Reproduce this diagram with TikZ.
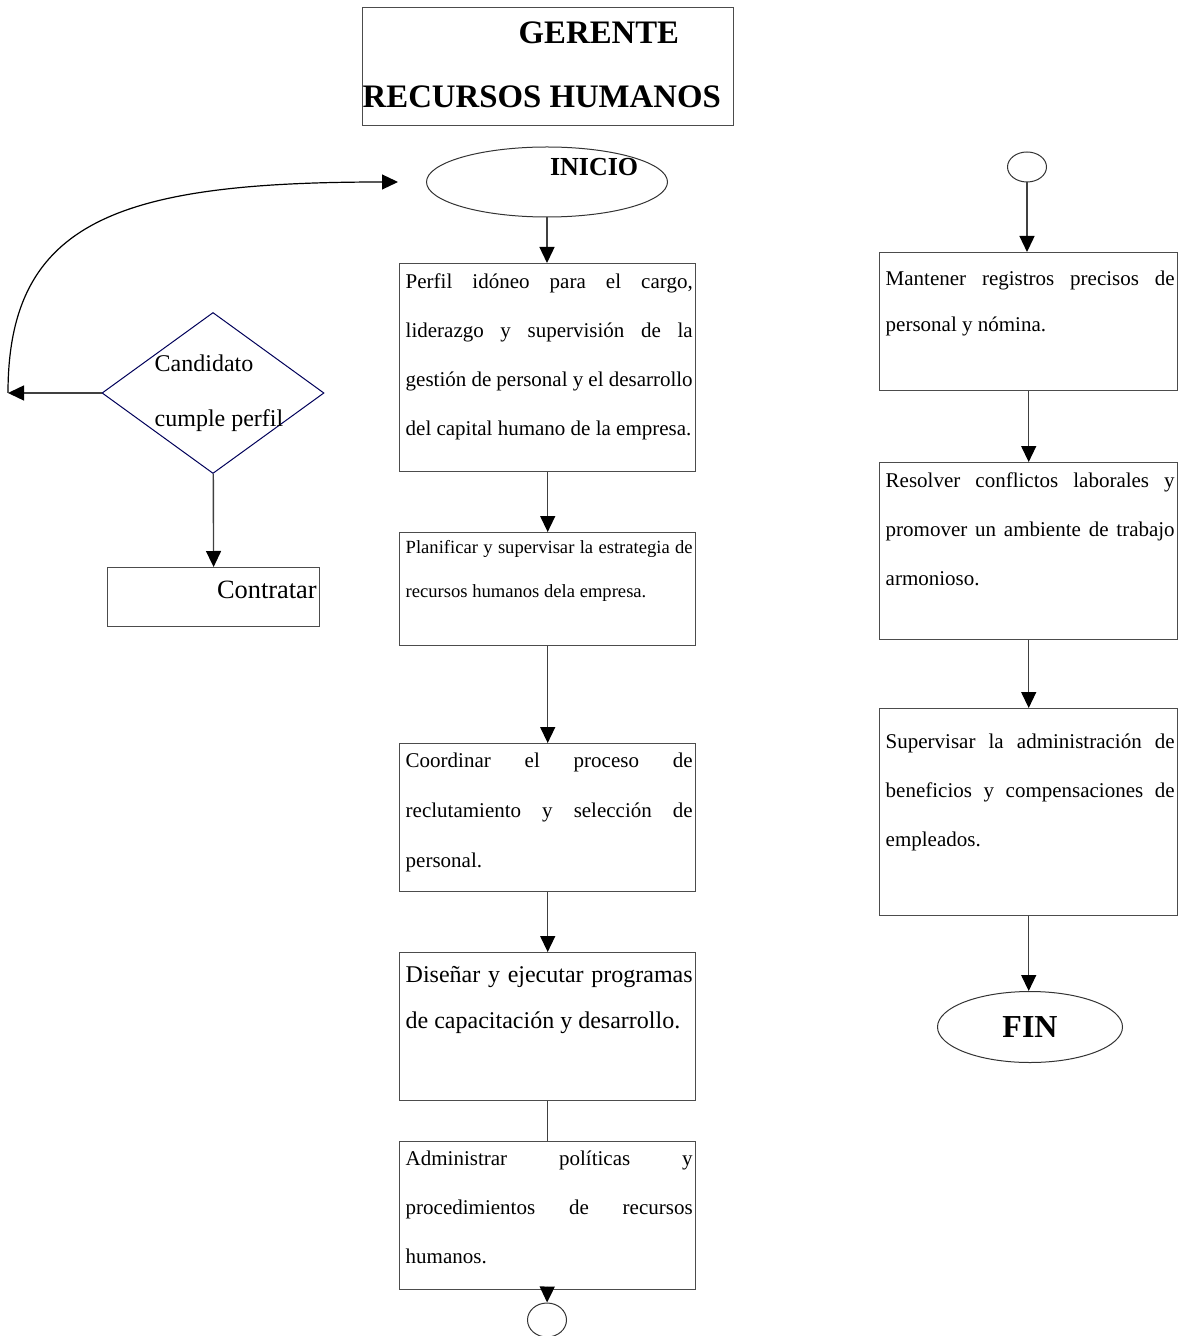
\documentclass[tikz,border=0pt]{standalone}
\usepackage{fontspec}
\setmainfont{Liberation Serif}
\usepackage{tikz}
\usetikzlibrary{shapes.geometric, arrows.meta, positioning}

% text of a process box: width, height, first baseline, lines
\newcommand{\stepbody}[4]{%
  \parbox[c][#2][t]{#1}{\leftskip=3pt\rightskip=1.5pt\rule{0pt}{#3}#4}}

\begin{document}
\begin{tikzpicture}[
  x=0.5pt, y=-0.5pt,
  >={Triangle[length=8pt,width=7.5pt,color=black]},
  stepbox/.style={rectangle, draw=black!70, line width=0.7pt, inner sep=0pt, anchor=north west, font=\fontsize{10.5}{24.5}\selectfont},
  terminal/.style={ellipse, draw=black!80, line width=0.5pt, inner sep=0pt},
  connector/.style={ellipse, draw=black!80, line width=0.5pt, inner sep=0pt, minimum width=19.5pt, minimum height=15pt},
  decision/.style={diamond, draw=blue!35!black, line width=0.5pt, inner sep=-4pt, shape aspect=1.38, minimum width=111pt, minimum height=80.5pt, align=left, font=\fontsize{12}{27.5}\selectfont},
  flow/.style={->, draw=black!75, line width=0.7pt},
]
\useasboundingbox (0,0) rectangle (1178,1336);

% title
\node[stepbox, font=\bfseries\fontsize{16.4}{32}\selectfont] (gerente) at (362,7)
  {\parbox[c][59pt][t]{185.5pt}{\rule{0pt}{18pt}\hspace*{78pt}GERENTE\\RECURSOS HUMANOS}};

% main column
\node[terminal, minimum width=120.5pt, minimum height=35pt, font=\bfseries\fontsize{13}{15}\selectfont] (inicio) at (547,182)
  {\raisebox{3pt}[0pt][0pt]{\makebox[0pt][l]{\hspace*{1.5pt}INICIO}}};
\node[stepbox] (perfil) at (399,263) {\stepbody{148pt}{104pt}{12.5pt}{Perfil idóneo para el cargo,\linebreak
  liderazgo y supervisión de la\linebreak gestión de personal y el desarrollo\linebreak
  del capital humano de la empresa.}};
\node[stepbox, font=\fontsize{9.3}{22}\selectfont] (planificar) at (399,532) {\stepbody{148pt}{56.5pt}{10.5pt}{Planificar y supervisar la estrategia de\linebreak
  recursos humanos dela empresa.}};
\node[stepbox, font=\fontsize{10.5}{25}\selectfont] (coordinar) at (399,743) {\stepbody{148pt}{74pt}{12pt}{Coordinar el proceso de\linebreak
  reclutamiento y selección de\linebreak personal.}};
\node[stepbox, font=\fontsize{12}{23}\selectfont] (disenar) at (399,952) {\stepbody{148pt}{74pt}{15pt}{Diseñar y ejecutar programas\linebreak
  de capacitación y desarrollo.}};
\node[stepbox] (administrar) at (399,1141) {\stepbody{148pt}{74pt}{12pt}{Administrar políticas y\linebreak
  procedimientos de recursos\linebreak humanos.}};
\node[connector, minimum height=17pt] (salida) at (547,1320) {};

% decision
\node[decision] (cumple) at (213,393) {\hspace*{6pt}Candidato\\\hspace*{6pt}cumple perfil};
\node[stepbox, font=\fontsize{13.2}{16}\selectfont] (contratar) at (107,567) {\stepbody{106pt}{29.5pt}{15.5pt}{\hfill Contratar}};
\coordinate (regreso) at (8,393);
\coordinate (retorno) at (398,182);

% right column
\node[connector] (entrada) at (1027,167) {};
\node[stepbox, font=\fontsize{10.5}{23}\selectfont] (mantener) at (879,252) {\stepbody{149pt}{69pt}{16.5pt}{Mantener registros precisos de\linebreak
  personal y nómina.}};
\node[stepbox] (resolver) at (879,462) {\stepbody{149pt}{88.5pt}{12.5pt}{Resolver conflictos laborales y\linebreak
  promover un ambiente de trabajo\linebreak armonioso.}};
\node[stepbox] (supervisar) at (879,708) {\stepbody{149pt}{103.5pt}{20pt}{Supervisar la administración de\linebreak
  beneficios y compensaciones de\linebreak empleados.}};
\node[terminal, minimum width=92.5pt, minimum height=35.5pt, font=\bfseries\fontsize{16}{19}\selectfont] (fin) at (1030,1027) {FIN};

% connectors
\draw[flow] (inicio.south) -- (inicio.south |- perfil.north);
\draw[flow] (perfil) -- (planificar);
\draw[flow] (planificar) -- (coordinar);
\draw[flow] (coordinar) -- (disenar);
\draw[draw=black!75, line width=0.7pt] (disenar) -- (administrar);
\draw[flow] (administrar) -- (salida);

\draw[flow] (cumple.west) -- (regreso);
\draw[->, line width=0.6pt] (regreso) .. controls (8,220) and (120,182) .. (retorno);
\draw[flow] (cumple) -- (contratar);

\draw[flow] (entrada) -- (entrada |- mantener.north);
\draw[flow] (mantener) -- (resolver);
\draw[flow] (resolver) -- (supervisar);
\draw[flow] (supervisar.south) -- (supervisar.south |- fin.north);

\end{tikzpicture}
\end{document}
